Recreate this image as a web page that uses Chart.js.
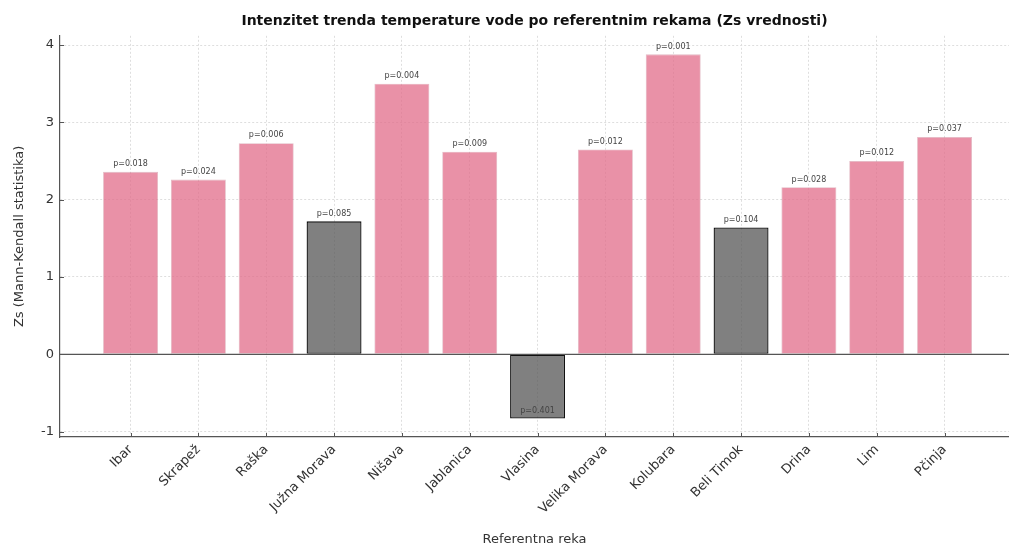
<!DOCTYPE html>
<html>
<head>
<meta charset="utf-8">
<title>Intenzitet trenda temperature vode</title>
<script src="https://cdn.jsdelivr.net/npm/chart.js@4.4.1/dist/chart.umd.min.js"></script>
<style>
    html, body { margin: 0; padding: 0; background: #ffffff; overflow: hidden; }
    #wrap { width: 1009px; height: 547px; }
</style>
</head>
<body>
<div id="wrap"><canvas id="trendChart" width="1009" height="547"></canvas></div>
<script>
// Reference rivers and Mann-Kendall values
const rivers = ['Ibar', 'Skrapež', 'Raška', 'Južna Morava', 'Nišava', 'Jablanica', 'Vlasina',
    'Velika Morava', 'Kolubara', 'Beli Timok', 'Drina', 'Lim', 'Pčinja'];
const zsValues = [2.36, 2.26, 2.73, 1.72, 3.50, 2.62, -0.83, 2.65, 3.88, 1.64, 2.16, 2.50, 2.81];
const pValues = ['0.018', '0.024', '0.006', '0.085', '0.004', '0.009', '0.401',
    '0.012', '0.001', '0.104', '0.028', '0.012', '0.037'];
const yTicks = [-1, 0, 1, 2, 3, 4];

const PINK = 'rgba(226, 108, 138, 0.75)';
const GREY = 'rgba(85, 85, 85, 0.75)';
const FONT = '"DejaVu Sans", Verdana, sans-serif';

function isSignificant(i) {
    return parseFloat(pValues[i]) < 0.05;
}

// zero line, inward tick marks and p-value labels
const extrasPlugin = {
    id: 'extras',
    afterDatasetsDraw(chart) {
        const ctx = chart.ctx;
        const area = chart.chartArea;
        const xScale = chart.scales.x;
        const yScale = chart.scales.y;

        // horizontal line at zero
        const y0 = yScale.getPixelForValue(0);
        ctx.save();
        ctx.strokeStyle = '#555555';
        ctx.lineWidth = 1.2;
        ctx.beginPath();
        ctx.moveTo(area.left, y0);
        ctx.lineTo(area.right, y0);
        ctx.stroke();

        // tick marks pointing into the plot
        ctx.strokeStyle = '#555555';
        ctx.lineWidth = 1;
        ctx.beginPath();
        yTicks.forEach(v => {
            const py = Math.round(yScale.getPixelForValue(v)) + 0.5;
            ctx.moveTo(area.left, py);
            ctx.lineTo(area.left + 4, py);
        });
        rivers.forEach((_, i) => {
            const px = Math.round(xScale.getPixelForValue(i)) + 0.5;
            ctx.moveTo(px, area.bottom);
            ctx.lineTo(px, area.bottom - 4);
        });
        ctx.stroke();

        // p-value labels
        ctx.fillStyle = '#444444';
        ctx.font = '8px ' + FONT;
        ctx.textAlign = 'center';
        ctx.textBaseline = 'bottom';
        const meta = chart.getDatasetMeta(0);
        meta.data.forEach((bar, i) => {
            const ty = yScale.getPixelForValue(zsValues[i] + 0.05);
            ctx.fillText('p=' + pValues[i], bar.x, ty);
        });
        ctx.restore();
    }
};

const ctx = document.getElementById('trendChart').getContext('2d');
const chart = new Chart(ctx, {
    type: 'bar',
    data: {
        datasets: [{
            data: zsValues.map((v, i) => ({ x: i, y: v })),
            backgroundColor: zsValues.map((_, i) => isSignificant(i) ? PINK : GREY),
            borderColor: zsValues.map((_, i) => isSignificant(i) ? 'rgba(200, 120, 140, 0.5)' : '#111111'),
            borderWidth: zsValues.map((_, i) => isSignificant(i) ? 0.8 : 1.3),
            borderSkipped: false,
            categoryPercentage: 1.0,
            barPercentage: 0.81
        }]
    },
    options: {
        responsive: false,
        animation: false,
        events: [],
        layout: { padding: { left: 12, right: 0, top: 0, bottom: 0 } },
        plugins: {
            legend: { display: false },
            tooltip: { enabled: false },
            title: {
                display: true,
                fullSize: false,
                text: 'Intenzitet trenda temperature vode po referentnim rekama (Zs vrednosti)',
                color: '#111111',
                font: { family: FONT, size: 14, weight: 'bold' },
                padding: { top: 13, bottom: 6 }
            }
        },
        scales: {
            x: {
                type: 'linear',
                min: -1.04,
                max: 12.95,
                offset: false,
                afterBuildTicks: axis => {
                    axis.ticks = rivers.map((_, i) => ({ value: i }));
                },
                afterFit: axis => { axis.height = 110; },
                ticks: {
                    autoSkip: false,
                    minRotation: 45,
                    maxRotation: 45,
                    padding: 5,
                    color: '#333333',
                    font: { family: FONT, size: 13 },
                    callback: v => rivers[v]
                },
                grid: {
                    offset: false,
                    color: '#dedede',
                    lineWidth: 1,
                    drawTicks: false,
                    borderDash: [2, 2]
                },
                border: { display: true, color: '#555555', width: 1.2, dash: [2, 2] },
                title: {
                    display: true,
                    text: 'Referentna reka',
                    color: '#333333',
                    font: { family: FONT, size: 13 },
                    padding: { top: 0, bottom: 0 }
                }
            },
            y: {
                min: -1.07,
                max: 4.12,
                afterBuildTicks: axis => {
                    axis.ticks = yTicks.map(v => ({ value: v }));
                },
                afterFit: axis => { axis.width = 48; },
                ticks: {
                    padding: 6,
                    color: '#333333',
                    font: { family: FONT, size: 13 }
                },
                grid: {
                    color: '#dedede',
                    lineWidth: 1,
                    drawTicks: false,
                    borderDash: [2, 2]
                },
                border: { display: true, color: '#555555', width: 1.2, dash: [2, 2] },
                title: {
                    display: true,
                    text: 'Zs (Mann-Kendall statistika)',
                    color: '#333333',
                    font: { family: FONT, size: 13 },
                    padding: { top: 0, bottom: 4 }
                }
            }
        }
    },
    plugins: [extrasPlugin]
});
</script>
</body>
</html>
